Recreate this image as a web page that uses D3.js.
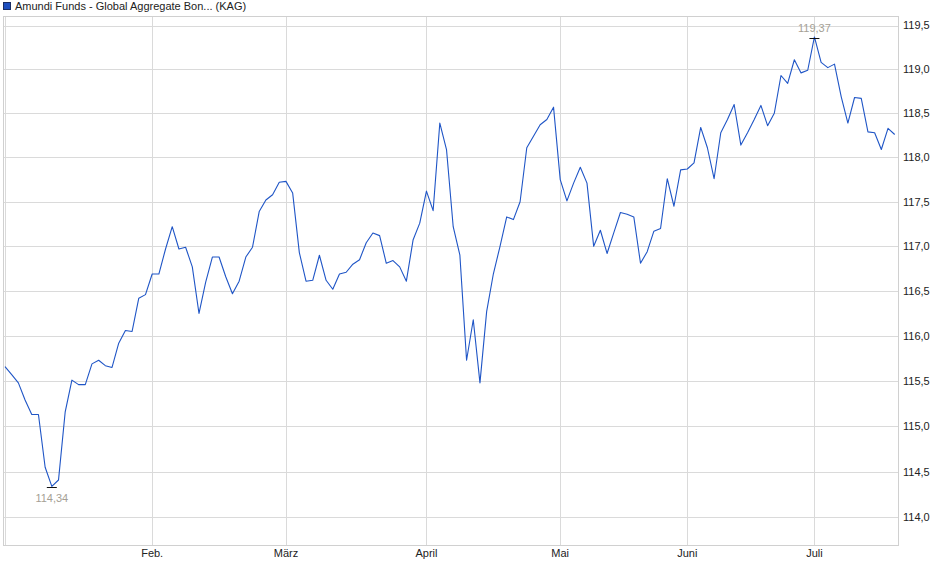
<!DOCTYPE html>
<html>
<head>
<meta charset="utf-8">
<script src="https://cdn.jsdelivr.net/npm/d3@7"></script>
<style>
  html, body { margin: 0; padding: 0; background: #fff; }
  svg { display: block; }
</style>
</head>
<body>
<div id="chart"></div>
<script>
// series name shown in the legend
const seriesName = "Amundi Funds - Global Aggregate Bon... (KAG)";

// daily prices, one per trading day
const prices = [
  115.66, 115.57, 115.48, 115.29, 115.13, 115.13, 114.55, 114.34, 114.41, 115.16,
  115.51, 115.46, 115.46, 115.69, 115.73, 115.67, 115.65, 115.92, 116.06, 116.05,
  116.42, 116.46, 116.69, 116.69, 116.97, 117.22, 116.97, 116.99, 116.77, 116.25,
  116.60, 116.88, 116.88, 116.66, 116.47, 116.61, 116.88, 116.99, 117.39, 117.52,
  117.58, 117.72, 117.73, 117.60, 116.93, 116.61, 116.62, 116.90, 116.62, 116.52,
  116.69, 116.71, 116.80, 116.85, 117.04, 117.15, 117.12, 116.81, 116.84, 116.77,
  116.61, 117.07, 117.26, 117.62, 117.40, 118.39, 118.09, 117.22, 116.90, 115.73,
  116.18, 115.48, 116.27, 116.69, 117.00, 117.33, 117.30, 117.50, 118.11, 118.24,
  118.37, 118.43, 118.57, 117.75, 117.51, 117.71, 117.89, 117.71, 117.00, 117.18,
  116.92, 117.15, 117.38, 117.36, 117.33, 116.81, 116.94, 117.17, 117.20, 117.76,
  117.45, 117.86, 117.87, 117.94, 118.34, 118.11, 117.76, 118.28, 118.43, 118.60,
  118.14, 118.28, 118.43, 118.59, 118.36, 118.50, 118.93, 118.84, 119.11, 118.96,
  118.99, 119.37, 119.08, 119.02, 119.06, 118.69, 118.39, 118.68, 118.67, 118.29,
  118.28, 118.09, 118.33, 118.26
];

// month ticks: label and index of the first trading day of that month
const monthLabels = ["Feb.", "März", "April", "Mai", "Juni", "Juli"];
const monthStart = [22, 42, 63, 83, 102, 121];

// price axis ticks
const yTicks = [114, 114.5, 115, 115.5, 116, 116.5, 117, 117.5, 118, 118.5, 119, 119.5];
const yDomain = [113.70, 119.61];

const width = 940, height = 579;
const plot = { left: 3, right: 898, top: 16, bottom: 545 };

const de = d3.formatLocale({ decimal: ",", thousands: ".", grouping: [3], currency: ["", " €"] });
const fmt = de.format(".1f");
const fmt2 = de.format(".2f");

const x = d3.scaleLinear()
  .domain([0, prices.length - 1])
  .range([5, 894.7]);

// the price axis is logarithmic
const y = d3.scaleLog()
  .domain(yDomain)
  .range([plot.bottom, plot.top]);

const svg = d3.select("#chart").append("svg")
  .attr("width", width)
  .attr("height", height)
  .attr("font-family", "'Liberation Sans', Arial, sans-serif")
  .attr("font-size", 11);

// legend
svg.append("rect")
  .attr("x", 3.5).attr("y", 2.5)
  .attr("width", 7).attr("height", 7)
  .attr("fill", "#1d4fbf")
  .attr("stroke", "#1a2d63");
svg.append("text")
  .attr("x", 15).attr("y", 10)
  .attr("fill", "#222")
  .text(seriesName);

const grid = svg.append("g")
  .attr("stroke", "#dadada")
  .attr("shape-rendering", "crispEdges");

// horizontal grid
grid.selectAll("line.h")
  .data(yTicks)
  .join("line")
  .attr("class", "h")
  .attr("x1", plot.left).attr("x2", plot.right)
  .attr("y1", d => Math.round(y(d)) + 0.5)
  .attr("y2", d => Math.round(y(d)) + 0.5);

// vertical grid (start of series + month starts)
grid.selectAll("line.v")
  .data([0, ...monthStart])
  .join("line")
  .attr("class", "v")
  .attr("y1", plot.top).attr("y2", plot.bottom)
  .attr("x1", d => Math.round(x(d)) + 0.5)
  .attr("x2", d => Math.round(x(d)) + 0.5);

// frame
svg.append("rect")
  .attr("x", plot.left + 0.5).attr("y", plot.top + 0.5)
  .attr("width", plot.right - plot.left).attr("height", plot.bottom - plot.top)
  .attr("fill", "none")
  .attr("stroke", "#d0d0d0")
  .attr("shape-rendering", "crispEdges");

// y labels
svg.append("g")
  .selectAll("text")
  .data(yTicks)
  .join("text")
  .attr("x", 903)
  .attr("y", d => y(d))
  .attr("dy", "0.35em")
  .attr("fill", "#222")
  .text(d => fmt(d));

// x labels
svg.append("g")
  .selectAll("text")
  .data(monthStart)
  .join("text")
  .attr("x", d => x(d))
  .attr("y", 557)
  .attr("text-anchor", "middle")
  .attr("fill", "#222")
  .text((d, i) => monthLabels[i]);

// price line
const line = d3.line()
  .x((d, i) => x(i))
  .y(d => y(d));

svg.append("path")
  .datum(prices)
  .attr("d", line)
  .attr("fill", "none")
  .attr("stroke", "#1f55c6")
  .attr("stroke-width", 1.1)
  .attr("stroke-linejoin", "round");

// min / max markers
const iMin = d3.minIndex(prices), iMax = d3.maxIndex(prices);
const marks = [
  { i: iMin, v: prices[iMin], dy: 15.5 },
  { i: iMax, v: prices[iMax], dy: -5 }
];

svg.append("g")
  .selectAll("line")
  .data(marks)
  .join("line")
  .attr("x1", d => x(d.i) - 5).attr("x2", d => x(d.i) + 5)
  .attr("y1", d => Math.round(y(d.v)) + 1.5)
  .attr("y2", d => Math.round(y(d.v)) + 1.5)
  .attr("stroke", "#111")
  .attr("stroke-width", 1);

svg.append("g")
  .selectAll("text")
  .data(marks)
  .join("text")
  .attr("x", d => x(d.i))
  .attr("y", d => y(d.v) + d.dy)
  .attr("text-anchor", "middle")
  .attr("fill", "#a59f95")
  .text(d => fmt2(d.v));
</script>
</body>
</html>
